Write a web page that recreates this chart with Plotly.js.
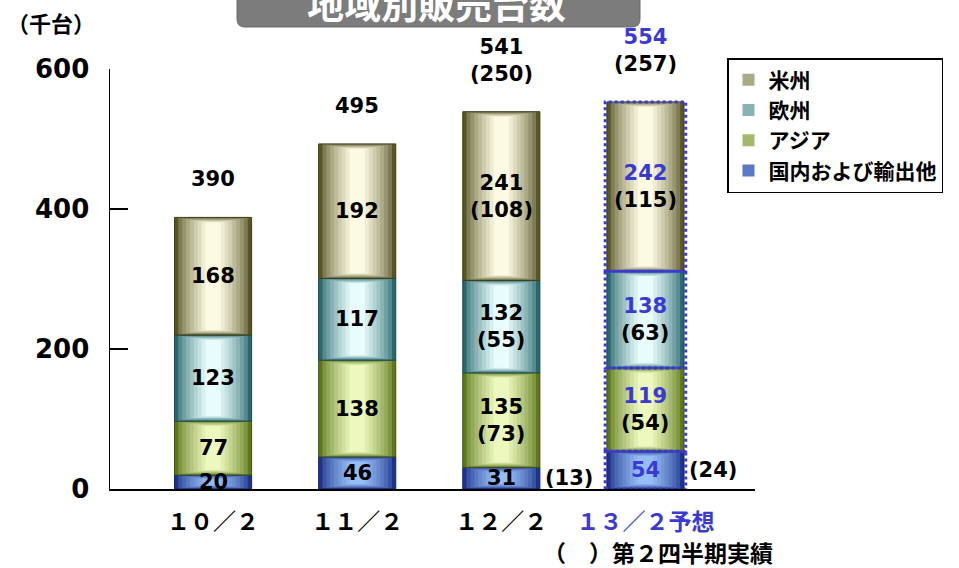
<!DOCTYPE html>
<html>
<head>
<meta charset="utf-8">
<script src="https://cdn.plot.ly/plotly-3.0.1.min.js"></script>
<style>html,body{margin:0;padding:0;background:#fff;}#chart{width:959px;height:568px;}</style>
</head>
<body>
<div id="chart"></div>
<script>
// ---- data ----
const categories = ['10/2', '11/2', '12/2', '13/2予想'];
const tickLabels = ['１０／２', '１１／２', '１２／２', '１３／２予想'];
const seriesNames = ['米州', '欧州', 'アジア', '国内および輸出他'];
const americas = [168, 192, 241, 242];
const europe = [123, 117, 132, 138];
const asia = [77, 138, 135, 119];
const domestic = [20, 46, 31, 54];
const totals = [390, 495, 541, 554];
// second-quarter actuals (shown in parentheses)
const americasQ2 = [null, null, 108, 115];
const europeQ2 = [null, null, 55, 63];
const asiaQ2 = [null, null, 73, 54];
const domesticQ2 = [null, null, 13, 24];
const totalsQ2 = [null, null, 250, 257];
const forecastIndex = 3;

// ---- style ----
const FONT = '"Noto Sans CJK JP", "Noto Sans", sans-serif';
const NUMFONT = '"DejaVu Sans", "Noto Sans CJK JP", sans-serif';
const BLUE = '#3a3ad2';
const BAR_W = 0.535;
const LAYERS = 9;
const palettes = {
  '米州':           {edge: [88, 86, 40],  light: [252, 250, 226]},
  '欧州':           {edge: [40, 104, 110], light: [232, 252, 252]},
  'アジア':         {edge: [92, 120, 26],  light: [236, 248, 190]},
  '国内および輸出他': {edge: [30, 52, 140],  light: [150, 190, 245]}
};

function mix(a, b, t) {
  return 'rgb(' + a.map((v, i) => Math.round(v + (b[i] - v) * t)).join(',') + ')';
}

// stack order bottom -> top
const stack = [
  {name: '国内および輸出他', vals: domestic, q2: domesticQ2},
  {name: 'アジア', vals: asia, q2: asiaQ2},
  {name: '欧州', vals: europe, q2: europeQ2},
  {name: '米州', vals: americas, q2: americasQ2}
];
const legendRank = {'米州': 1, '欧州': 2, 'アジア': 3, '国内および輸出他': 4};

const xs = categories.map((c, i) => i);
let cum = categories.map(() => 0);
const traces = [];
const annotations = [];
const shapes = [];
const numFont = {family: NUMFONT, size: 21, color: '#000', weight: 'bold'};

stack.forEach(s => {
  const base = cum.slice();
  const pal = palettes[s.name];
  for (let k = 0; k < LAYERS; k++) {
    const f = k / (LAYERS - 1);
    const w = BAR_W * (1 - 0.1 * k);
    const inset = s.vals.map(v => Math.min(k * 0.9, v * 0.3 * f));
    traces.push({
      type: 'bar',
      x: xs,
      y: s.vals.map((v, i) => v - 2 * inset[i]),
      base: base.map((b, i) => b + inset[i]),
      width: xs.map(() => w),
      name: s.name,
      legendgroup: s.name,
      legendrank: legendRank[s.name],
      showlegend: k === 3,
      marker: {
        color: mix(pal.edge, pal.light, Math.pow(f, 0.7)),
        line: {width: k === 0 ? 1 : 0, color: mix(pal.edge, [0, 0, 0], 0.3)}
      },
      hoverinfo: 'skip'
    });
  }
  // segment labels
  s.vals.forEach((v, i) => {
    const isF = i === forecastIndex;
    const main = isF ? '<span style="color:' + BLUE + '">' + v + '</span>' : String(v);
    const small = s.name === '国内および輸出他';
    let txt = main;
    if (s.q2[i] != null && !small) txt += '<br>(' + s.q2[i] + ')';
    annotations.push({
      x: i, y: base[i] + v / 2, xref: 'x', yref: 'y',
      text: txt, showarrow: false, font: numFont
    });
    if (small && s.q2[i] != null) {
      annotations.push({
        x: i + BAR_W / 2, y: base[i] + v / 2, xref: 'x', yref: 'y',
        xanchor: 'left', xshift: 3,
        text: '(' + s.q2[i] + ')', showarrow: false, font: numFont
      });
    }
    if (isF) {
      shapes.push({
        type: 'rect', xref: 'x', yref: 'y',
        x0: i - BAR_W / 2 - 0.012, x1: i + BAR_W / 2 + 0.012,
        y0: base[i], y1: base[i] + v,
        line: {color: BLUE, width: 3, dash: 'dot'}
      });
    }
  });
  cum = cum.map((c, i) => c + s.vals[i]);
});

// total labels
totals.forEach((t, i) => {
  const isF = i === forecastIndex;
  let txt = isF ? '<span style="color:' + BLUE + '">' + t + '</span>' : String(t);
  if (totalsQ2[i] != null) txt += '<br>(' + totalsQ2[i] + ')';
  annotations.push({
    x: i, y: cum[i], xref: 'x', yref: 'y', yanchor: 'bottom', yshift: 24,
    text: txt, showarrow: false, font: numFont
  });
});

// tick label text (forecast in blue)
const tickText = tickLabels.map((t, i) => i === forecastIndex ? '<span style="color:' + BLUE + '">' + t + '</span>' : t);

// title band & notes
shapes.push({
  type: 'path', xref: 'paper', yref: 'paper',
  path: (function () {
    const px = x => (x - 110) / 645, py = y => (489 - y) / 420;
    return 'M' + px(237) + ',' + py(-10) + ' L' + px(237) + ',' + py(19) +
      ' Q' + px(237) + ',' + py(27) + ' ' + px(245) + ',' + py(27) +
      ' L' + px(632) + ',' + py(27) +
      ' Q' + px(640) + ',' + py(27) + ' ' + px(640) + ',' + py(19) +
      ' L' + px(640) + ',' + py(-10) + ' Z';
  })(),
  fillcolor: '#7c7c7c', line: {color: '#6a6a6a', width: 1}
});
annotations.push({
  xref: 'paper', yref: 'paper', x: (436 - 110) / 645, y: (489 - 3) / 420,
  text: '地域別販売台数', showarrow: false, yanchor: 'middle', xanchor: 'center',
  font: {family: FONT, size: 37, color: '#ffffff', weight: 'bold'}
});
annotations.push({
  xref: 'paper', yref: 'paper', x: (51 - 110) / 645, y: (489 - 22) / 420,
  text: '（千台）', showarrow: false, yanchor: 'middle', xanchor: 'center',
  font: {family: FONT, size: 22, color: '#000', weight: 'bold'}
});
annotations.push({
  xref: 'paper', yref: 'paper', x: (658 - 110) / 645, y: (489 - 552) / 420,
  text: '（　）第２四半期実績', showarrow: false, yanchor: 'middle', xanchor: 'center',
  font: {family: FONT, size: 23, color: '#000', weight: 'bold'}
});

const layout = {
  width: 959, height: 568,
  margin: {l: 110, r: 204, t: 69, b: 79},
  paper_bgcolor: '#ffffff', plot_bgcolor: '#ffffff',
  barmode: 'overlay',
  showlegend: true,
  legend: {
    x: (727 - 110) / 645, y: (489 - 58) / 420, xanchor: 'left', yanchor: 'top',
    bordercolor: '#000', borderwidth: 1.5, bgcolor: '#fff',
    traceorder: 'grouped', tracegroupgap: 0,
    font: {family: FONT, size: 21, color: '#000', weight: 'bold'}
  },
  xaxis: {
    range: [-0.715, 3.76],
    tickvals: xs, ticktext: tickText,
    showline: true, linecolor: '#000', linewidth: 1.5,
    ticks: '', showgrid: false, zeroline: false,
    ticklabelstandoff: 12,
    tickfont: {family: FONT, size: 23, color: '#000', weight: 'bold'}
  },
  yaxis: {
    range: [0, 600], tickvals: [0, 200, 400, 600],
    showline: true, linecolor: '#000', linewidth: 1.5,
    ticks: 'inside', ticklen: 18, tickwidth: 1.5, tickcolor: '#000',
    showgrid: false, zeroline: false,
    ticklabelstandoff: 14,
    tickfont: {family: NUMFONT, size: 26, color: '#000', weight: 'bold'}
  },
  annotations: annotations,
  shapes: shapes
};

Plotly.newPlot('chart', traces, layout, {displayModeBar: false, staticPlot: true});
</script>
</body>
</html>
